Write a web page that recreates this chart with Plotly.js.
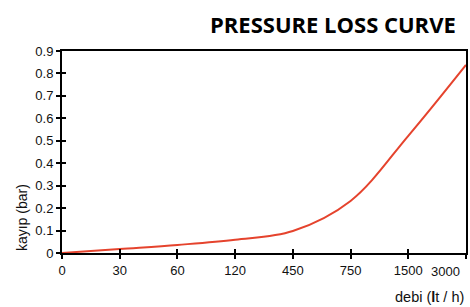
<!DOCTYPE html>
<html><head><meta charset="utf-8">
<script src="https://cdn.plot.ly/plotly-3.0.1.min.js"></script>
<style>html,body{margin:0;padding:0;background:#fff}#c{width:470px;height:307px}</style>
</head><body><div id="c"></div>
<script>
var categories = ["0","30","60","120","450","750","1500","3000"];
var pressureLoss = [0, 0.018, 0.036, 0.059, 0.098, 0.232, 0.522, 0.838];
var xTickLabels = ["0","30","60","120","450","750","1500",""];
var lastXLabel = "3000";
var yTicks = [0,0.1,0.2,0.3,0.4,0.5,0.6,0.7,0.8,0.9];
var yTickLabels = ["0","0.1","0.2","0.3","0.4","0.5","0.6","0.7","0.8","0.9"];

var font = "Liberation Sans, Arial, sans-serif";
var traces = [
  {x: categories, y: pressureLoss, type: "scatter", mode: "lines",
   line: {color: "#e5432d", width: 2, shape: "spline", smoothing: 1},
   xaxis: "x", yaxis: "y", hoverinfo: "none", cliponaxis: false},
  {x: [], y: [], type: "scatter", mode: "lines", xaxis: "x2", yaxis: "y2", showlegend: false}
];
var axCommon = {showgrid: false, zeroline: false, linecolor: "#000", linewidth: 2,
  tickcolor: "#000", tickwidth: 2, ticklen: 4,
  tickfont: {family: font, size: 13, color: "#111"}};
var layout = {
  width: 470, height: 307,
  margin: {l: 62, r: 4, t: 51, b: 54},
  paper_bgcolor: "#fff", plot_bgcolor: "#fff",
  showlegend: false,
  xaxis: Object.assign({}, axCommon, {type: "category", categoryorder: "array", categoryarray: categories,
    tickvals: categories, ticktext: xTickLabels,
    range: [0, 7], ticks: "outside", mirror: true, showline: true, tickangle: 0, fixedrange: true}),
  yaxis: Object.assign({}, axCommon, {range: [0, 0.9], tickvals: yTicks, ticktext: yTickLabels,
    ticks: "outside", mirror: true, showline: true, fixedrange: true}),
  xaxis2: Object.assign({}, axCommon, {overlaying: "x", matches: "x", type: "category",
    categoryorder: "array", categoryarray: categories, ticks: "inside", showticklabels: false, showline: false, anchor: "y2"}),
  yaxis2: Object.assign({}, axCommon, {overlaying: "y", matches: "y", tickvals: yTicks,
    ticks: "inside", showticklabels: false, showline: false, anchor: "x2"}),
  annotations: [
    {text: "<b>PRESSURE LOSS CURVE</b>", xref: "paper", yref: "paper", x: 0.98, y: 1.135,
     xanchor: "right", yanchor: "middle", showarrow: false,
     font: {family: "Open Sans, sans-serif", size: 22, color: "#000"}},
    {text: lastXLabel, xref: "paper", yref: "paper", x: 0.99, y: -0.092,
     xanchor: "right", yanchor: "middle", showarrow: false, font: {family: font, size: 13, color: "#111"}},
    {text: "kayıp (bar)", xref: "paper", yref: "paper", x: -0.099, y: 0.173, xanchor: "center", yanchor: "middle",
     textangle: -90, showarrow: false, font: {family: font, size: 14, color: "#111"}},
    {text: "debi (<b>l</b>t / h)", xref: "paper", yref: "paper", x: 1.0, y: -0.218, xanchor: "right", yanchor: "middle",
     showarrow: false, font: {family: font, size: 14.5, color: "#111"}}
  ]
};
Plotly.newPlot("c", traces, layout, {staticPlot: true, displayModeBar: false});
</script></body></html>
